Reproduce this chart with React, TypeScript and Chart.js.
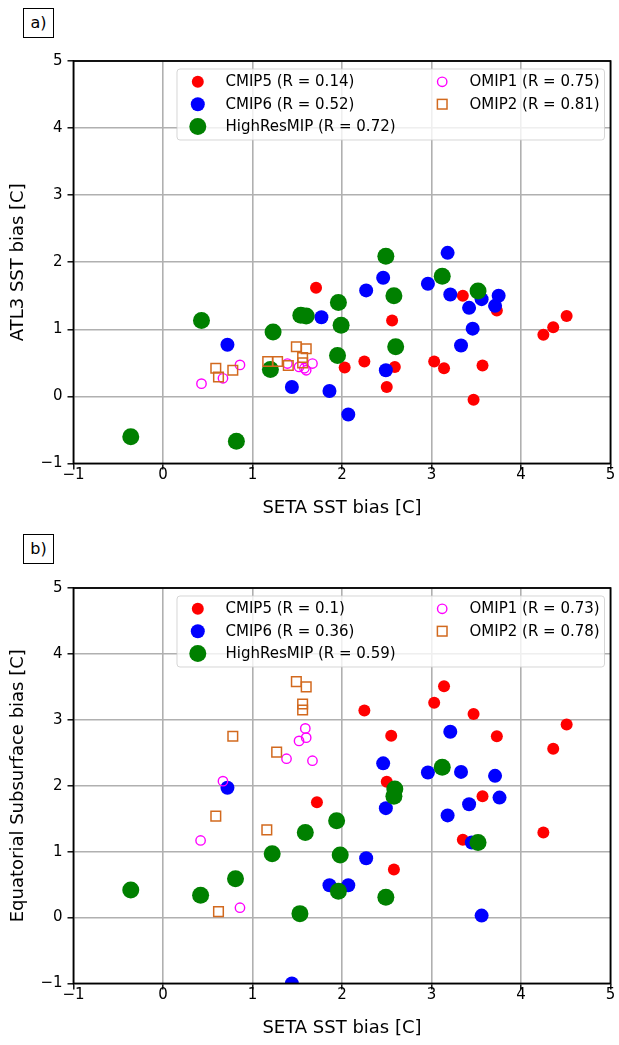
import React, { useEffect, useRef } from 'react';
import { Chart, registerables } from 'chart.js';

Chart.register(...registerables);

const FONT = 'DejaVu Sans';

// ---------- Panel a) ATL3 SST bias vs SETA SST bias ----------
const cmip5A_x = [1.71, 3.35, 2.56, 3.73, 4.25, 4.36, 4.51, 2.03, 2.25, 2.59, 2.50, 3.03, 3.14, 3.57, 3.47];
const cmip5A_y = [1.62, 1.50, 1.13, 1.28, 0.92, 1.03, 1.20, 0.43, 0.52, 0.44, 0.14, 0.52, 0.42, 0.46, -0.05];

const cmip6A_x = [3.18, 2.46, 2.27, 2.96, 3.21, 3.56, 3.75, 3.71, 3.42, 3.46, 3.33, 1.77, 0.72, 1.44, 1.86, 2.49, 2.07];
const cmip6A_y = [2.14, 1.77, 1.58, 1.68, 1.52, 1.45, 1.50, 1.35, 1.32, 1.01, 0.76, 1.18, 0.77, 0.14, 0.08, 0.39, -0.27];

const hiresA_x = [2.49, 3.12, 3.52, 2.58, 1.96, 1.54, 1.60, 1.99, 0.43, 1.23, 2.60, 1.95, 1.20, -0.36, 0.82];
const hiresA_y = [2.09, 1.79, 1.57, 1.50, 1.40, 1.21, 1.20, 1.06, 1.13, 0.96, 0.74, 0.61, 0.40, -0.60, -0.67];

const omip1A_x = [0.43, 0.67, 0.86, 1.39, 1.52, 1.58, 1.60, 1.67];
const omip1A_y = [0.19, 0.27, 0.47, 0.49, 0.44, 0.42, 0.39, 0.49];

const omip2A_x = [0.59, 0.62, 0.78, 1.17, 1.28, 1.40, 1.49, 1.60, 1.56, 1.56];
const omip2A_y = [0.42, 0.29, 0.39, 0.52, 0.52, 0.46, 0.74, 0.71, 0.58, 0.50];

const legendA = ['CMIP5 (R = 0.14)', 'CMIP6 (R = 0.52)', 'HighResMIP (R = 0.72)', 'OMIP1 (R = 0.75)', 'OMIP2 (R = 0.81)'];

// ---------- Panel b) Equatorial Subsurface bias vs SETA SST bias ----------
const cmip5B_x = [3.14, 3.03, 2.25, 3.47, 4.51, 2.55, 3.73, 4.36, 2.50, 1.72, 3.57, 4.25, 3.35, 2.58];
const cmip5B_y = [3.51, 3.26, 3.14, 3.09, 2.93, 2.76, 2.75, 2.56, 2.06, 1.75, 1.84, 1.29, 1.18, 0.73];

const cmip6B_x = [3.21, 2.46, 2.96, 3.33, 3.71, 0.72, 3.76, 3.42, 2.49, 3.18, 3.45, 2.27, 1.86, 2.07, 3.56, 1.44];
const cmip6B_y = [2.82, 2.34, 2.20, 2.21, 2.15, 1.97, 1.82, 1.72, 1.66, 1.55, 1.14, 0.90, 0.49, 0.49, 0.03, -1.0];

const hiresB_x = [3.12, 2.59, 2.58, 1.94, 1.59, 1.22, 1.98, 3.52, 0.81, -0.36, 0.42, 1.96, 2.49, 1.53];
const hiresB_y = [2.28, 1.95, 1.84, 1.47, 1.29, 0.97, 0.95, 1.14, 0.59, 0.42, 0.34, 0.40, 0.31, 0.06];

const omip1B_x = [0.67, 0.42, 0.86, 1.38, 1.52, 1.59, 1.60, 1.67];
const omip1B_y = [2.07, 1.17, 0.15, 2.41, 2.68, 2.87, 2.73, 2.38];

const omip2B_x = [1.49, 1.60, 1.56, 1.56, 0.78, 1.27, 0.59, 1.16, 0.62];
const omip2B_y = [3.58, 3.50, 3.24, 3.15, 2.75, 2.51, 1.54, 1.33, 0.09];

const legendB = ['CMIP5 (R = 0.1)', 'CMIP6 (R = 0.36)', 'HighResMIP (R = 0.59)', 'OMIP1 (R = 0.73)', 'OMIP2 (R = 0.78)'];

// ---------- Axes ----------
const X_MIN = -1, X_MAX = 5, Y_MIN = -1, Y_MAX = 5;
const X_TITLE = 'SETA SST bias [C]';
const Y_TITLE_A = 'ATL3 SST bias [C]';
const Y_TITLE_B = 'Equatorial Subsurface bias [C]';

// styles
const STYLES = [
  { color: '#ff0000', radius: 6, fill: true, style: 'circle' },
  { color: '#0000ff', radius: 7, fill: true, style: 'circle' },
  { color: '#008000', radius: 8.5, fill: true, style: 'circle' },
  { color: '#ff00ff', radius: 4.7, fill: false, style: 'circle', bw: 1.4 },
  { color: '#d2691e', radius: 6.8, fill: false, style: 'rect', bw: 1.5 },
];

const zip = (xs: number[], ys: number[]) => xs.map((x, i) => ({ x, y: ys[i] }));

const fmt = (v: number) => (v < 0 ? '\u2212' + Math.abs(v) : String(v));

const frameLegendPlugin = {
  id: 'frameLegend',
  afterDatasetsDraw(chart: any, _args: any, opts: any) {
    const { ctx, chartArea: a } = chart;
    ctx.save();
    // spines
    ctx.strokeStyle = '#000';
    ctx.lineWidth = 1.8;
    ctx.strokeRect(a.left, a.top, a.right - a.left, a.bottom - a.top);

    // legend frame
    const bx = a.left + 103.5;
    const by = a.top + 8;
    const bw = a.right - 6 - bx;
    const bh = 71;
    const r = 3;
    ctx.beginPath();
    ctx.moveTo(bx + r, by);
    ctx.lineTo(bx + bw - r, by);
    ctx.arcTo(bx + bw, by, bx + bw, by + r, r);
    ctx.lineTo(bx + bw, by + bh - r);
    ctx.arcTo(bx + bw, by + bh, bx + bw - r, by + bh, r);
    ctx.lineTo(bx + r, by + bh);
    ctx.arcTo(bx, by + bh, bx, by + bh - r, r);
    ctx.lineTo(bx, by + r);
    ctx.arcTo(bx, by, bx + r, by, r);
    ctx.closePath();
    ctx.fillStyle = 'rgba(255,255,255,0.8)';
    ctx.fill();
    ctx.strokeStyle = 'rgba(204,204,204,0.8)';
    ctx.lineWidth = 1;
    ctx.stroke();

    const labels: string[] = opts.labels;
    const pos = [
      { mx: 124.3, tx: 152, row: 0 },
      { mx: 124.3, tx: 152, row: 1 },
      { mx: 124.3, tx: 152, row: 2 },
      { mx: 368.7, tx: 396, row: 0 },
      { mx: 368.7, tx: 396, row: 1 },
    ];
    ctx.font = `15px "${FONT}"`;
    ctx.textBaseline = 'middle';
    ctx.textAlign = 'left';
    labels.forEach((lab, i) => {
      const st = STYLES[i];
      const p = pos[i];
      const cx = a.left + p.mx;
      const cy = a.top + 20.8 + p.row * 22.4;
      if (st.style === 'rect') {
        const h = st.radius * Math.SQRT1_2;
        ctx.strokeStyle = st.color;
        ctx.lineWidth = st.bw || 1;
        ctx.strokeRect(cx - h, cy - h, 2 * h, 2 * h);
      } else {
        ctx.beginPath();
        ctx.arc(cx, cy, st.radius, 0, Math.PI * 2);
        if (st.fill) {
          ctx.fillStyle = st.color;
          ctx.fill();
        } else {
          ctx.strokeStyle = st.color;
          ctx.lineWidth = st.bw || 1;
          ctx.stroke();
        }
      }
      ctx.fillStyle = '#000';
      ctx.fillText(lab, a.left + p.tx, cy + 0.5);
    });
    ctx.restore();
  },
};

function makeConfig(series: { x: number; y: number }[][], labels: string[], yTitle: string, top: number) {
  // draw order: first series bottom -> reverse since Chart.js draws first dataset on top
  const datasets = series
    .map((pts, i) => {
      const st = STYLES[i];
      return {
        label: labels[i],
        data: pts,
        pointStyle: st.style,
        pointRadius: st.radius,
        pointHoverRadius: st.radius,
        backgroundColor: st.fill ? st.color : 'rgba(0,0,0,0)',
        borderColor: st.color,
        borderWidth: st.fill ? 0 : st.bw,
        pointBorderWidth: st.fill ? 0 : st.bw,
        clip: 0,
      };
    })
    .reverse();

  const tickFont = { family: FONT, size: 15 };
  const titleFont = { family: FONT, size: 18 };
  return {
    type: 'scatter',
    data: { datasets },
    plugins: [frameLegendPlugin],
    options: {
      animation: false,
      responsive: false,
      events: [],
      layout: { padding: { top, right: 6, left: 0, bottom: 0 } },
      plugins: {
        legend: { display: false },
        tooltip: { enabled: false },
        frameLegend: { labels },
      },
      scales: {
        x: {
          type: 'linear',
          min: X_MIN,
          max: X_MAX,
          ticks: { stepSize: 1, font: tickFont, color: '#000', padding: -3, callback: (v: number) => fmt(v) },
          grid: { color: '#b0b0b0', lineWidth: 1.6, tickLength: 6, tickColor: '#000', tickWidth: 1.4 },
          border: { display: false },
          title: { display: true, text: X_TITLE, font: titleFont, color: '#000', padding: { top: 0, bottom: 6 } },
          afterFit: (s: any) => {
            s.height = 61.5;
          },
        },
        y: {
          type: 'linear',
          min: Y_MIN,
          max: Y_MAX,
          ticks: { stepSize: 1, font: tickFont, color: '#000', padding: 5, callback: (v: number) => fmt(v) },
          grid: { color: '#b0b0b0', lineWidth: 1.6, tickLength: 6, tickColor: '#000', tickWidth: 1.4 },
          border: { display: false },
          title: { display: true, text: yTitle, font: titleFont, color: '#000', padding: { top: 8, bottom: 0 } },
          afterFit: (s: any) => {
            s.width = 73.5;
          },
        },
      },
    },
  };
}

function Panel({ series, labels, yTitle, top, height }: any) {
  const ref = useRef<HTMLCanvasElement>(null);
  useEffect(() => {
    if (!ref.current) return;
    const chart = new Chart(ref.current, makeConfig(series, labels, yTitle, top) as any);
    return () => chart.destroy();
  }, []);
  return <canvas ref={ref} width={619} height={height} style={{ display: 'block', width: 619, height }} />;
}

const boxStyle: React.CSSProperties = {
  position: 'absolute',
  left: 23,
  width: 29,
  height: 28,
  border: '1px solid #000',
  font: `16px "${FONT}"`,
  lineHeight: '28px',
  textAlign: 'center',
  color: '#000',
  background: '#fff',
};

export default function App() {
  const seriesA = [
    zip(cmip5A_x, cmip5A_y),
    zip(cmip6A_x, cmip6A_y),
    zip(hiresA_x, hiresA_y),
    zip(omip1A_x, omip1A_y),
    zip(omip2A_x, omip2A_y),
  ];
  const seriesB = [
    zip(cmip5B_x, cmip5B_y),
    zip(cmip6B_x, cmip6B_y),
    zip(hiresB_x, hiresB_y),
    zip(omip1B_x, omip1B_y),
    zip(omip2B_x, omip2B_y),
  ];
  return (
    <div style={{ position: 'absolute', left: 0, top: 0, width: 619, height: 1045, background: '#fff', overflow: 'hidden' }}>
      <div style={{ position: 'absolute', left: 0, top: 0 }}>
        <Panel series={seriesA} labels={legendA} yTitle={Y_TITLE_A} top={61} height={525} />
      </div>
      <div style={{ position: 'absolute', left: 0, top: 525 }}>
        <Panel series={seriesB} labels={legendB} yTitle={Y_TITLE_B} top={63} height={520} />
      </div>
      <div style={{ ...boxStyle, top: 8 }}>a)</div>
      <div style={{ ...boxStyle, top: 534 }}>b)</div>
    </div>
  );
}
